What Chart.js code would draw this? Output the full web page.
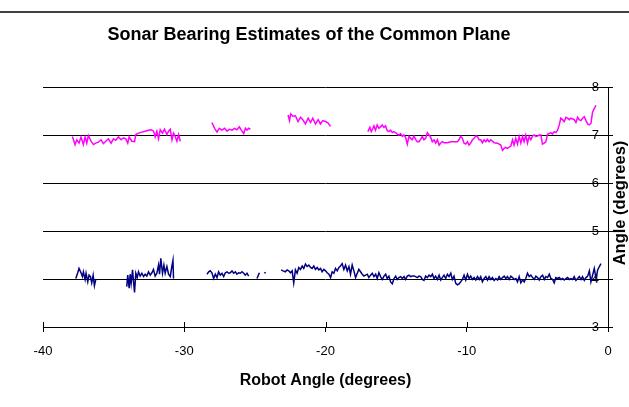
<!DOCTYPE html>
<html>
<head>
<meta charset="utf-8">
<script src="https://cdn.jsdelivr.net/npm/chart.js@4/dist/chart.umd.min.js"></script>
<style>
  html, body { margin: 0; padding: 0; background: #fff; }
  #wrap { width: 629px; height: 407px; }
</style>
</head>
<body>
<div id="wrap"><canvas id="chart" width="629" height="407"></canvas></div>
<script>
// Robot angle (deg) vs estimated bearing (deg), one array per unbroken run
const upperA = [[-37.92,6.97],[-37.73,6.80],[-37.61,6.90],[-37.45,6.83],[-37.31,6.96],[-37.14,6.80],[-37.02,6.96],[-36.90,6.83],[-36.79,6.99],[-36.60,6.87],[-36.43,6.80],[-36.27,6.83],[-36.08,6.85],[-35.89,6.90],[-35.72,6.82],[-35.56,6.87],[-35.37,6.92],[-35.18,6.83],[-35.01,6.92],[-34.85,6.89],[-34.66,6.96],[-34.47,6.90],[-34.30,6.94],[-34.14,6.92],[-34.00,6.83],[-33.90,6.96],[-33.71,6.87],[-33.52,6.86],[-33.43,7.01],[-33.24,7.04],[-33.00,7.06],[-32.77,7.08],[-32.53,7.10],[-32.34,7.11],[-32.17,7.08],[-32.06,6.96],[-31.94,7.08],[-31.82,6.92],[-31.70,7.11],[-31.54,7.04],[-31.40,7.12],[-31.23,7.01],[-31.11,7.08],[-30.99,7.12],[-30.87,6.90],[-30.76,7.04],[-30.64,6.97],[-30.52,6.87],[-30.40,7.01],[-30.28,6.87]];
const upperB = [[-28.04,7.26],[-27.85,7.14],[-27.68,7.06],[-27.52,7.14],[-27.33,7.10],[-27.14,7.14],[-26.97,7.08],[-26.81,7.12],[-26.62,7.10],[-26.43,7.14],[-26.27,7.11],[-26.10,7.17],[-25.96,7.10],[-25.79,7.03],[-25.67,7.14],[-25.56,7.10],[-25.44,7.14],[-25.32,7.12]];
const upperC = [[-22.65,7.42],[-22.55,7.30],[-22.46,7.44],[-22.32,7.39],[-22.13,7.40],[-21.94,7.28],[-21.77,7.37],[-21.61,7.32],[-21.42,7.23],[-21.23,7.35],[-21.06,7.26],[-20.90,7.35],[-20.71,7.23],[-20.52,7.32],[-20.36,7.23],[-20.19,7.30],[-20.00,7.28],[-19.81,7.25],[-19.65,7.18]];
const upperD = [[-17.00,7.07],[-16.86,7.16],[-16.76,7.07],[-16.67,7.12],[-16.57,7.19],[-16.46,7.10],[-16.34,7.21],[-16.22,7.14],[-16.10,7.17],[-15.98,7.21],[-15.87,7.16],[-15.75,7.19],[-15.63,7.09],[-15.51,7.07],[-15.39,7.10],[-15.27,7.05],[-15.16,7.07],[-15.04,7.05],[-14.92,7.02],[-14.80,7.00],[-14.68,7.03],[-14.56,6.97],[-14.45,7.00],[-14.33,6.95],[-14.21,6.81],[-14.09,6.97],[-13.97,6.93],[-13.86,6.90],[-13.74,6.98],[-13.62,6.91],[-13.50,6.86],[-13.38,6.86],[-13.26,6.91],[-13.15,6.97],[-13.03,6.90],[-12.91,6.93],[-12.79,7.05],[-12.67,7.00],[-12.55,6.95],[-12.44,6.86],[-12.32,6.90],[-12.20,6.83],[-12.08,6.90],[-11.96,6.79],[-11.85,6.83],[-11.73,6.86],[-11.61,6.84],[-11.37,6.84],[-11.14,6.86],[-10.90,6.86],[-10.66,6.86],[-10.55,6.90],[-10.43,6.97],[-10.31,6.93],[-10.19,6.83],[-10.07,6.81],[-9.95,6.86],[-9.84,6.79],[-9.72,6.83],[-9.60,6.90],[-9.48,6.93],[-9.36,6.98],[-9.25,6.97],[-9.13,6.90],[-9.01,6.90],[-8.89,6.84],[-8.77,6.90],[-8.65,6.86],[-8.54,6.91],[-8.42,6.86],[-8.30,6.90],[-8.06,6.84],[-7.83,6.83],[-7.59,6.79],[-7.47,6.68],[-7.35,6.72],[-7.24,6.74],[-7.12,6.72],[-6.88,6.77],[-6.76,6.90],[-6.65,6.79],[-6.53,6.93],[-6.41,6.81],[-6.29,6.97],[-6.17,6.83],[-6.05,6.97],[-5.94,6.86],[-5.82,7.00],[-5.70,6.83],[-5.58,6.97],[-5.46,6.90],[-5.34,6.98],[-5.23,7.00],[-5.11,6.97],[-4.99,6.98],[-4.87,7.00],[-4.75,7.00],[-4.64,6.81],[-4.52,6.83],[-4.40,6.86],[-4.28,7.02],[-4.16,7.03],[-4.05,7.05],[-3.93,7.02],[-3.81,7.07],[-3.69,7.05],[-3.57,7.10],[-3.45,7.21],[-3.34,7.35],[-3.22,7.32],[-3.10,7.28],[-2.98,7.37],[-2.86,7.35],[-2.74,7.32],[-2.63,7.35],[-2.39,7.32],[-2.27,7.26],[-2.15,7.37],[-2.04,7.32],[-1.92,7.30],[-1.80,7.35],[-1.68,7.38],[-1.56,7.30],[-1.44,7.23],[-1.33,7.21],[-1.21,7.24],[-1.09,7.48],[-0.97,7.55],[-0.85,7.62]];

const lowerA = [[-37.68,4.01],[-37.54,4.13],[-37.45,4.22],[-37.31,4.13],[-37.21,4.05],[-37.14,4.15],[-37.02,3.99],[-36.95,4.12],[-36.83,3.94],[-36.74,4.08],[-36.64,4.05],[-36.55,3.92],[-36.45,4.08],[-36.36,3.86],[-36.27,3.98]];
const lowerB = [[-34.07,3.84],[-34.00,4.08],[-33.90,3.81],[-33.83,4.10],[-33.76,3.91],[-33.66,4.19],[-33.59,3.94],[-33.52,3.72],[-33.43,4.12],[-33.33,4.03],[-33.24,4.15],[-33.12,4.06],[-33.00,4.12],[-32.88,4.05],[-32.77,4.10],[-32.65,4.06],[-32.53,4.15],[-32.41,4.08],[-32.29,4.13],[-32.18,4.20],[-32.06,4.06],[-31.94,4.12],[-31.82,4.29],[-31.75,4.10],[-31.66,4.43],[-31.54,4.12],[-31.44,4.29],[-31.35,4.12],[-31.23,4.26],[-31.11,4.10],[-30.99,4.05],[-30.88,4.26],[-30.80,4.39],[-30.76,4.01]];
const lowerC = [[-28.39,4.10],[-28.27,4.15],[-28.16,4.17],[-28.04,4.13],[-27.92,4.01],[-27.80,4.10],[-27.68,4.03],[-27.57,4.15],[-27.45,4.08],[-27.33,4.12],[-27.21,4.05],[-27.09,4.13],[-26.97,4.15],[-26.86,4.12],[-26.74,4.13],[-26.62,4.17],[-26.50,4.12],[-26.38,4.15],[-26.27,4.10],[-26.15,4.13],[-26.03,4.12],[-25.91,4.15],[-25.79,4.12],[-25.68,4.08],[-25.56,4.12],[-25.44,4.06]];
const lowerD = [[-24.85,4.01],[-24.68,4.13]];
const lowerE = [[-24.33,4.12],[-24.23,4.14]];
const lowerF = [[-23.14,4.19],[-23.00,4.17],[-22.84,4.15],[-22.72,4.19],[-22.60,4.17],[-22.48,4.13],[-22.36,4.17],[-22.25,3.92],[-22.13,4.19],[-22.01,4.12],[-21.89,4.24],[-21.77,4.20],[-21.65,4.27],[-21.54,4.22],[-21.42,4.31],[-21.30,4.26],[-21.18,4.29],[-21.06,4.24],[-20.95,4.22],[-20.83,4.27],[-20.71,4.20],[-20.59,4.24],[-20.47,4.19],[-20.35,4.22],[-20.24,4.15],[-20.12,4.20],[-20.00,4.17],[-19.88,4.13],[-19.76,4.10],[-19.64,4.03],[-19.53,4.15],[-19.41,4.12],[-19.29,4.22],[-19.17,4.17],[-19.05,4.24],[-18.94,4.27],[-18.82,4.32],[-18.70,4.20],[-18.58,4.29],[-18.46,4.17],[-18.34,4.26],[-18.23,4.10],[-18.11,4.29],[-17.99,4.17],[-17.87,4.03],[-17.75,4.12],[-17.64,4.20],[-17.52,4.15],[-17.40,4.10],[-17.28,4.06],[-17.16,4.08],[-17.04,4.10],[-16.93,4.03],[-16.81,4.08],[-16.69,4.12],[-16.57,4.05],[-16.45,4.10],[-16.34,4.01],[-16.22,4.13],[-16.10,4.05],[-15.98,3.99],[-15.86,4.06],[-15.74,4.10],[-15.63,4.01],[-15.51,4.06],[-15.39,3.94],[-15.27,3.90],[-15.15,4.01],[-15.03,4.06],[-14.92,3.99],[-14.80,4.03],[-14.68,4.05],[-14.56,4.01],[-14.44,4.05],[-14.33,3.99],[-14.21,4.06],[-14.09,4.08],[-13.97,4.05],[-13.85,4.06],[-13.73,4.06],[-13.62,4.05],[-13.50,4.03],[-13.38,4.06],[-13.26,4.05],[-13.14,3.99],[-13.03,3.97],[-12.91,4.06],[-12.79,4.03],[-12.67,4.08],[-12.55,4.05],[-12.43,4.10],[-12.32,4.01],[-12.20,4.06],[-12.08,3.99],[-11.96,4.08],[-11.84,3.98],[-11.73,4.03],[-11.61,4.08],[-11.49,4.01],[-11.37,4.10],[-11.25,4.05],[-11.13,4.12],[-11.02,3.99],[-10.90,4.06],[-10.78,3.91],[-10.66,3.88],[-10.54,3.90],[-10.43,3.94],[-10.31,3.99],[-10.19,4.08],[-10.07,3.98],[-9.95,4.10],[-9.83,4.01],[-9.72,4.06],[-9.60,3.99],[-9.48,4.03],[-9.36,3.98],[-9.24,4.05],[-9.12,3.99],[-9.01,4.05],[-8.89,3.94],[-8.77,4.01],[-8.65,4.05],[-8.53,3.98],[-8.42,4.05],[-8.30,3.99],[-8.18,4.03],[-8.06,3.97],[-7.94,4.01],[-7.82,3.98],[-7.71,4.05],[-7.59,3.99],[-7.47,4.03],[-7.35,4.06],[-7.23,4.01],[-7.12,4.05],[-7.00,3.99],[-6.88,4.06],[-6.76,4.03],[-6.64,3.99],[-6.52,4.01],[-6.41,3.94],[-6.29,4.05],[-6.17,3.92],[-6.05,3.98],[-5.93,3.94],[-5.82,4.01],[-5.70,4.12],[-5.58,4.05],[-5.46,4.08],[-5.34,4.03],[-5.22,3.99],[-5.11,4.06],[-4.99,4.03],[-4.87,3.98],[-4.75,4.05],[-4.63,4.08],[-4.51,3.99],[-4.40,4.05],[-4.28,4.03],[-4.16,4.10],[-4.04,4.01],[-3.92,3.99],[-3.81,3.92],[-3.69,4.03],[-3.57,4.01],[-3.45,4.03],[-3.33,3.99],[-3.21,4.01],[-3.10,3.98],[-2.98,4.01],[-2.86,4.03],[-2.74,3.99],[-2.62,4.01],[-2.51,3.99],[-2.39,4.05],[-2.27,3.97],[-2.15,4.01],[-2.03,4.05],[-1.91,3.99],[-1.80,4.05],[-1.68,3.97],[-1.56,4.03],[-1.44,4.06],[-1.32,4.17],[-1.21,3.94],[-1.09,4.08],[-0.97,4.22],[-0.85,4.01],[-0.73,4.19],[-0.61,4.26],[-0.50,4.32]];

const upperRuns = [upperA, upperB, upperC, upperD];
const lowerRuns = [lowerA, lowerB, lowerC, lowerD, lowerE, lowerF];

const xTicks = [-40, -30, -20, -10, 0];
const yTicks = [3, 4, 5, 6, 7, 8];

const chartTitle = 'Sonar Bearing Estimates of the Common Plane';
const xTitle = 'Robot Angle (degrees)';
const yTitle = 'Angle (degrees)';

const FONT = '"Liberation Sans", Arial, Helvetica, sans-serif';
const MAGENTA = '#FF00FF';
const NAVY = '#000080';

function runDataset(run, color) {
  return {
    data: run.map(p => ({ x: p[0], y: p[1] })),
    borderColor: color,
    borderWidth: 1.5,
    pointRadius: 0,
    tension: 0,
    fill: false
  };
}

const datasets = [
  ...upperRuns.map(r => runDataset(r, MAGENTA)),
  ...lowerRuns.map(r => runDataset(r, NAVY))
];

// titles, top rule and the inner half of the x tick marks
const decorations = {
  id: 'decorations',
  afterDraw(chart) {
    const { ctx, chartArea, scales } = chart;
    ctx.save();
    ctx.strokeStyle = '#000';
    ctx.lineWidth = 1.5;
    ctx.beginPath();
    ctx.moveTo(0, 12);
    ctx.lineTo(chart.width, 12);
    ctx.stroke();

    ctx.fillStyle = '#000';
    ctx.textAlign = 'center';
    ctx.textBaseline = 'middle';
    ctx.font = 'bold 18px ' + FONT;
    ctx.fillText(chartTitle, 309, 35);
    ctx.font = 'bold 16px ' + FONT;
    ctx.fillText(xTitle, (chartArea.left + chartArea.right) / 2, 381);

    ctx.lineWidth = 1;
    ctx.beginPath();
    xTicks.forEach(v => {
      const px = Math.round(scales.x.getPixelForValue(v)) + 0.5;
      ctx.moveTo(px, chartArea.bottom);
      ctx.lineTo(px, chartArea.bottom - 5);
    });
    ctx.stroke();

    ctx.translate(620, 203);
    ctx.rotate(-Math.PI / 2);
    ctx.font = 'bold 16.5px ' + FONT;
    ctx.fillText(yTitle, 0, 0);
    ctx.restore();
  }
};

new Chart(document.getElementById('chart'), {
  type: 'line',
  data: { datasets },
  options: {
    responsive: false,
    animation: false,
    layout: { padding: { top: 87, left: 43, right: 0, bottom: 0 } },
    plugins: { legend: { display: false }, tooltip: { enabled: false } },
    scales: {
      x: {
        type: 'linear',
        min: -40,
        max: 0,
        afterBuildTicks: s => { s.ticks = xTicks.map(v => ({ value: v })); },
        afterFit: s => { s.height = 80; },
        ticks: { color: '#000', font: { family: FONT, size: 13 }, padding: 12, maxRotation: 0 },
        grid: { drawOnChartArea: false, color: '#000', tickLength: 5 },
        border: { color: '#000', width: 1 }
      },
      y: {
        type: 'linear',
        position: 'right',
        min: 3,
        max: 8,
        afterBuildTicks: s => { s.ticks = yTicks.map(v => ({ value: v })); },
        afterFit: s => { s.width = 21; },
        ticks: { color: '#000', font: { family: FONT, size: 13 }, mirror: true, padding: -9 },
        grid: { color: '#000', tickLength: 5 },
        border: { color: '#000', width: 1 }
      }
    }
  },
  plugins: [decorations]
});
</script>
</body>
</html>
